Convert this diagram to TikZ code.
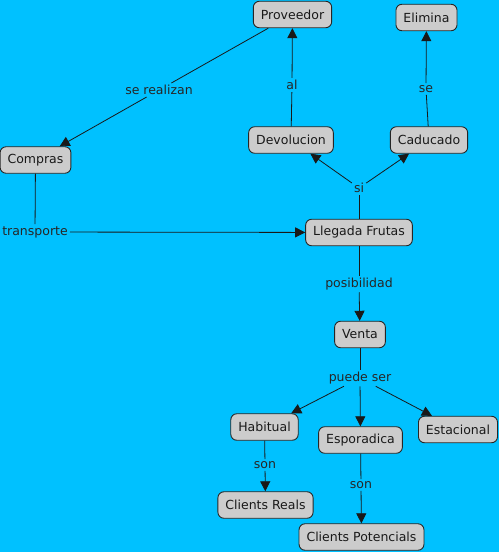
\documentclass[tikz,border=0pt]{standalone}
\usepackage{fontspec}
\setmainfont{DejaVu Sans}
\usetikzlibrary{arrows.meta}
\definecolor{mapbg}{RGB}{0,193,255}
\definecolor{conceptgray}{RGB}{204,204,204}
\begin{document}
\begin{tikzpicture}[
        x=1pt, y=-1pt,
        concept/.style={draw=black!85, fill=conceptgray, text=black!90, rounded corners=6pt, line width=0.9pt, minimum height=26.5pt, inner xsep=7.5pt, font=\fontsize{12.5}{15}\selectfont},
        linkword/.style={inner sep=2pt, text=black!85, font=\fontsize{12.5}{15}\selectfont},
        conn/.style={draw=black!90, line width=0.8pt},
        arr/.style={conn, -{Triangle[length=10pt,width=10pt]}},
    ]
    \useasboundingbox (0,0) rectangle (499,552);
    \fill[mapbg] (0,0) rectangle (499,552);
    % concepts
    \node[concept](proveedor) at (292.5,14.5){Proveedor};
    \node[concept](elimina) at (426.5,17.5){Elimina};
    \node[concept](devolucion) at (291,140){Devolucion};
    \node[concept](caducado) at (429,140){Caducado};
    \node[concept](compras) at (35.5,160){Compras};
    \node[concept](llegada) at (359,232.5){Llegada Frutas};
    \node[concept](venta) at (360,334.5){Venta};
    \node[concept](habitual) at (264.5,427){Habitual};
    \node[concept](esporadica) at (360.5,440){Esporadica};
    \node[concept](estacional) at (458,429.5){Estacional};
    \node[concept](reals) at (265.5,505){Clients Reals};
    \node[concept](potencials) at (361.5,537){Clients Potencials};
    % linking words
    \node[linkword](serealizan) at (159,90){se realizan};
    \node[linkword](al) at (292,85){al};
    \node[linkword](se) at (426,89){se};
    \node[linkword](si) at (359,188){si};
    \node[linkword](transporte) at (35,232){transporte};
    \node[linkword](posibilidad) at (359,284){posibilidad};
    \node[linkword](puedeser) at (360,378){puede ser};
    \node[linkword](son1) at (265,465){son};
    \node[linkword](son2) at (361,485){son};
    % connectors
    \draw[conn] (proveedor) -- (serealizan);
    \draw[arr] (serealizan) -- (compras);
    \draw[conn] (devolucion) -- (al);
    \draw[arr] (al) -- (proveedor);
    \draw[conn] (caducado) -- (se);
    \draw[arr] (se) -- (elimina);
    \draw[conn] (llegada) -- (si);
    \draw[arr] (si) -- (devolucion);
    \draw[arr] (si) -- (caducado);
    \draw[conn] (compras) -- (transporte);
    \draw[arr] (transporte) -- (llegada);
    \draw[conn] (llegada) -- (posibilidad);
    \draw[arr] (posibilidad) -- (venta);
    \draw[conn] (venta) -- (puedeser);
    \draw[arr] (puedeser) -- (habitual);
    \draw[arr] (puedeser) -- (esporadica);
    \draw[arr] (puedeser) -- (estacional);
    \draw[conn] (habitual) -- (son1);
    \draw[arr] (son1) -- (reals);
    \draw[conn] (esporadica) -- (son2);
    \draw[arr] (son2) -- (potencials);
\end{tikzpicture}
\end{document}
